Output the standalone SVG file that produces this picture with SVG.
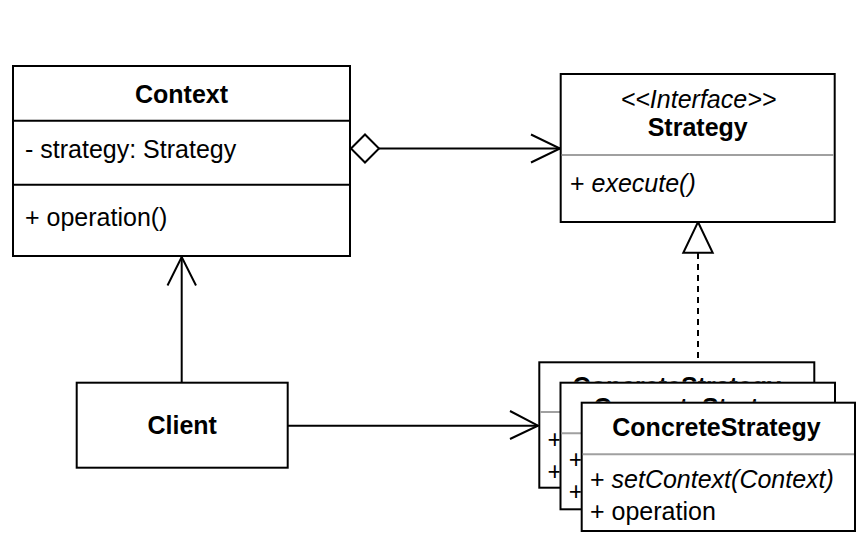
<svg xmlns="http://www.w3.org/2000/svg" width="868" height="541" viewBox="0 0 868 541">
<style>
.box{fill:#fff;stroke:#000;stroke-width:2}
.div{stroke:#000;stroke-width:2}
.gdiv{stroke:#a0a0a0;stroke-width:2}
.t{font-family:"Liberation Sans",Helvetica,Arial,sans-serif;font-size:25px;fill:#000}
.b{font-weight:bold}
.i{font-style:italic}
.ln{fill:none;stroke:#000;stroke-width:2}
</style>
<defs>
<clipPath id="vis1"><path d="M539.3 362.3 H814.3 V381.7 H559.5 V487.7 H539.3 Z"/></clipPath>
<clipPath id="vis2"><path d="M560.5 382.7 H835 V401.7 H580.7 V509.3 H560.5 Z"/></clipPath>
</defs>
<rect x="0" y="0" width="868" height="541" fill="#fff"/>
<g id="connectors">
<path class="ln" d="M379 148.5 H560"/>
<path class="ln" d="M531 134.5 L560 148.5 L531 162.5"/>
<path d="M351 148.5 L365 134.5 L379 148.5 L365 162.5 Z" fill="#fff" stroke="#000" stroke-width="2"/>
<path class="ln" d="M181.7 382.7 V257"/>
<path class="ln" d="M167.5 285.5 L181.7 257 L196 285.5"/>
<path class="ln" d="M287.7 425.7 H538"/>
<path class="ln" d="M510 411 L538 425.7 L510 439"/>
<path class="ln" d="M698 253 V362" stroke-dasharray="6 5"/>
<path d="M698 222 L712.7 252.7 L683.3 252.7 Z" fill="#fff" stroke="#000" stroke-width="2"/>
</g>
<g id="context">
<rect class="box" x="13" y="66" width="337" height="190"/>
<line class="div" x1="13" y1="120.7" x2="350" y2="120.7"/>
<line class="div" x1="13" y1="184.7" x2="350" y2="184.7"/>
<text class="t b" x="181.5" y="103.3" text-anchor="middle">Context</text>
<text class="t" x="25" y="158.3">- strategy: Strategy</text>
<text class="t" x="25" y="226">+ operation()</text>
</g>
<g id="strategy">
<rect class="box" x="560.7" y="74" width="274" height="148"/>
<line class="gdiv" x1="561.7" y1="155" x2="833.7" y2="155"/>
<text class="t i" x="698.5" y="107.7" text-anchor="middle">&lt;&lt;Interface&gt;&gt;</text>
<text class="t b" x="697.7" y="135.5" text-anchor="middle">Strategy</text>
<text class="t" x="570" y="191.7">+ <tspan class="i">execute()</tspan></text>
</g>
<g id="client">
<rect class="box" x="76.7" y="382.7" width="211" height="85"/>
<text class="t b" x="182.2" y="434.3" text-anchor="middle">Client</text>
</g>
<g id="concrete1">
<rect class="box" x="539.3" y="362.3" width="275" height="125.4"/>
<line class="gdiv" x1="540.3" y1="412" x2="813.3" y2="412"/>
<g clip-path="url(#vis1)">
<text class="t b" x="676.8" y="395.3" text-anchor="middle">ConcreteStrategy</text>
<text class="t" x="547.6" y="448">+</text>
<text class="t" x="547.6" y="479.6">+</text>
</g>
</g>
<g id="concrete2">
<rect class="box" x="560.5" y="382.7" width="274.5" height="126.6"/>
<line class="gdiv" x1="561.5" y1="433.3" x2="834" y2="433.3"/>
<g clip-path="url(#vis2)">
<text class="t b" x="697.8" y="415.7" text-anchor="middle">ConcreteStrategy</text>
<text class="t" x="568.8" y="468.3">+</text>
<text class="t" x="568.8" y="500">+</text>
</g>
</g>
<g id="concrete3">
<rect class="box" x="581.7" y="402.7" width="273.3" height="128.3"/>
<line class="gdiv" x1="582.7" y1="454.3" x2="854" y2="454.3"/>
<text class="t b" x="716.5" y="435.7" text-anchor="middle">ConcreteStrategy</text>
<text class="t" x="590" y="488.3">+ <tspan class="i">setContext(Context)</tspan></text>
<text class="t" x="590" y="520">+ operation</text>
</g>
</svg>
